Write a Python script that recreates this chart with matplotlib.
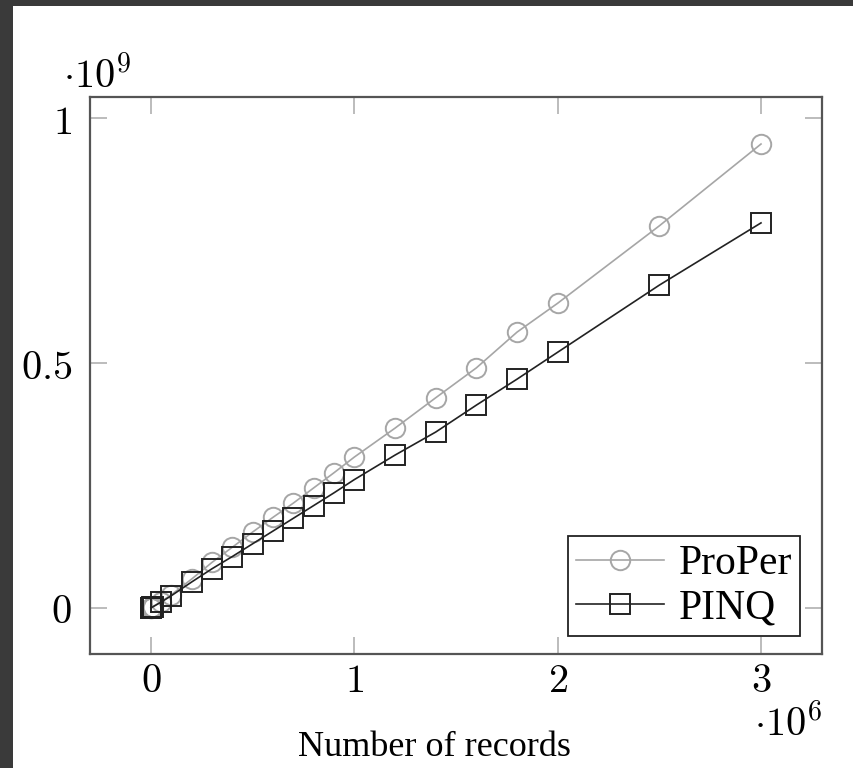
import matplotlib
matplotlib.use("Agg")
from matplotlib import pyplot as plt
from matplotlib.patches import Rectangle

plt.rcParams['mathtext.fontset'] = 'cm'

records = [0, 1e3, 5e3, 1e4, 5e4, 1e5, 2e5, 3e5, 4e5, 5e5, 6e5, 7e5, 8e5, 9e5,
           1e6, 1.2e6, 1.4e6, 1.6e6, 1.8e6, 2e6, 2.5e6, 3e6]
proper = [0, 0.0003, 0.0014, 0.0028, 0.013, 0.027, 0.059, 0.093, 0.124, 0.155, 0.185,
          0.214, 0.245, 0.276, 0.308, 0.367, 0.429, 0.490, 0.563, 0.622, 0.780, 0.947]
pinq = [0, 0.0003, 0.0013, 0.0025, 0.012, 0.025, 0.053, 0.080, 0.105, 0.131, 0.157,
        0.183, 0.209, 0.235, 0.262, 0.312, 0.359, 0.414, 0.467, 0.522, 0.659, 0.786]
proper = [v * 1e9 for v in proper]
pinq = [v * 1e9 for v in pinq]

x_ticks = [0, 1e6, 2e6, 3e6]
x_labels = ['$0$', '$1$', '$2$', '$3$']
y_ticks = [0, 0.5e9, 1e9]
y_labels = ['$0$', '$0.5$', '$1$']

fig = plt.figure(figsize=(8.54, 7.68), dpi=100)
fig.patch.set_facecolor('#3a3a3a')
fig.patches.append(Rectangle((13 / 854, 0), 1, 1 - 6 / 768, transform=fig.transFigure,
                             facecolor='white', edgecolor='none', zorder=-10))

ax = fig.add_axes([90 / 854, 1 - 654 / 768, 732 / 854, 557 / 768])
ax.plot(records, proper, color='#a6a6a6', lw=1.2, marker='o', ms=14,
        mfc='none', mec='#a6a6a6', mew=1.4, label='ProPer')
ax.plot(records, pinq, color='#222222', lw=1.2, marker='s', ms=14,
        mfc='none', mec='#222222', mew=1.4, label='PINQ')

ax.set_xlim(-0.3e6, 3.3e6)
ax.set_ylim(-0.094e9, 1.043e9)
ax.set_xticks(x_ticks)
ax.set_xticklabels(x_labels)
ax.set_yticks(y_ticks)
ax.set_yticklabels(y_labels)
ax.tick_params(direction='in', top=True, right=True, length=12, width=1.2,
               color='#b0b0b0', labelsize=29)
ax.tick_params(axis='x', pad=5)
ax.tick_params(axis='y', pad=13)
for s in ax.spines.values():
    s.set_color('#555555')
    s.set_linewidth(1.6)

ax.text(-0.037, 1.0, r'$\cdot 10^{9}$', transform=ax.transAxes, fontsize=29,
        ha='left', va='bottom')
ax.text(1.0, -0.09, r'$\cdot 10^{6}$', transform=ax.transAxes, fontsize=29,
        ha='right', va='top')
ax.text(0.47, -0.138, 'Number of records', transform=ax.transAxes, fontsize=26,
        family='Liberation Serif', ha='center', va='top')

leg = ax.legend(loc='lower right', bbox_to_anchor=(0.97, 0.032), fancybox=False,
                framealpha=1, edgecolor='#222222', prop={'family': 'Liberation Serif', 'size': 30},
                handlelength=2.1, handletextpad=0.35, labelspacing=0.15, borderpad=0.2,
                borderaxespad=0)
leg.get_frame().set_linewidth(1.3)

fig.savefig('out.png', dpi=100, facecolor=fig.get_facecolor())
